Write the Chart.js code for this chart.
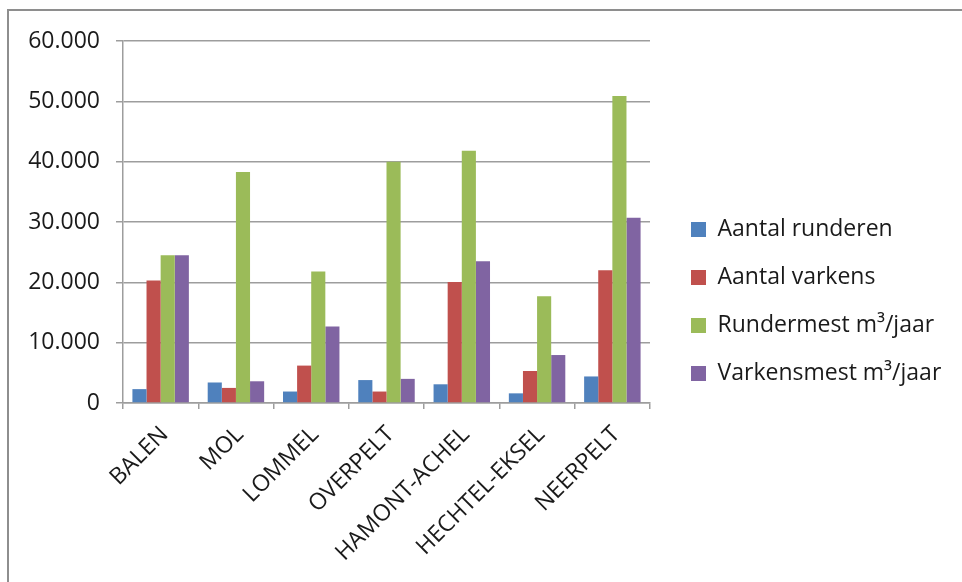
<!DOCTYPE html>
<html>
<head>
<meta charset="utf-8">
<script src="https://cdn.jsdelivr.net/npm/chart.js@4/dist/chart.umd.min.js"></script>
<style>
  html, body { margin: 0; padding: 0; background: #fff; overflow: hidden; }
  #wrap { position: relative; width: 962px; height: 582px; }
  #frame { position: absolute; left: 7px; top: 9px; width: 1000px; height: 620px; border: 2px solid #8e8e8e; box-sizing: border-box; pointer-events: none; }
  canvas { position: absolute; left: 0; top: 0; }
</style>
</head>
<body>
<div id="wrap">
  <canvas id="c" width="962" height="582"></canvas>
  <div id="frame"></div>
</div>
<script>
const categories = ["BALEN", "MOL", "LOMMEL", "OVERPELT", "HAMONT-ACHEL", "HECHTEL-EKSEL", "NEERPELT"];
const aantalRunderen = [2300, 3400, 1900, 3800, 3100, 1600, 4400];
const aantalVarkens = [20300, 2500, 6200, 1900, 20050, 5300, 22000];
const rundermest = [24500, 38300, 21800, 40000, 41800, 17700, 50900];
const varkensmest = [24500, 3600, 12700, 4000, 23500, 7950, 30700];
const seriesNames = ["Aantal runderen", "Aantal varkens", "Rundermest m³/jaar", "Varkensmest m³/jaar"];
const seriesColors = ["#4F81BD", "#C0504D", "#9BBB59", "#8064A2"];
const yTicks = [0, 10000, 20000, 30000, 40000, 50000, 60000];

const FONT = "Open Sans";
const FS = 23;
const fmt = v => String(v).replace(/\B(?=(\d{3})+(?!\d))/g, ".");

const legendPlacer = {
  id: "legendPlacer",
  beforeLayout(chart) {
    const lg = chart.legend;
    if (lg && !lg._patched) {
      const f = lg.fit.bind(lg);
      lg.fit = function () { f(); this.width = 962 - 650; };
      lg._patched = true;
    }
  },
  afterLayout(chart) {
    const lg = chart.legend;
    if (lg) {
      const pad = lg.options.labels.padding;
      const w = lg.width;
      lg.left = 691 - pad;
      lg.right = lg.left + w;
      lg.top -= 10;
      lg.bottom -= 10;
    }
  }
};

const allSeries = [aantalRunderen, aantalVarkens, rundermest, varkensmest];

new Chart(document.getElementById("c"), {
  type: "bar",
  data: {
    labels: categories,
    datasets: allSeries.map((d, i) => ({
      label: seriesNames[i],
      data: d,
      backgroundColor: seriesColors[i],
      borderWidth: 0,
      categoryPercentage: 0.75,
      barPercentage: 1.0
    }))
  },
  options: {
    responsive: false,
    devicePixelRatio: 1,
    animation: false,
    layout: { padding: { top: 41, left: 0, right: 0, bottom: 0 } },
    plugins: {
      tooltip: { enabled: false },
      legend: {
        position: "right",
        align: "center",
        labels: {
          boxWidth: 15,
          boxHeight: 15,
          padding: 25,
          color: "#1a1a1a",
          font: { family: FONT, size: FS }
        }
      }
    },
    scales: {
      x: {
        afterFit(s) { s.height = 582 - 403; },
        grid: { display: true, drawOnChartArea: false, drawTicks: true, tickLength: 6, color: "#9d9d9d", lineWidth: 1.5, offset: true },
        border: { display: true, color: "#9d9d9d", width: 1.5 },
        ticks: {
          color: "#1a1a1a",
          font: { family: FONT, size: FS },
          minRotation: 45,
          maxRotation: 45,
          autoSkip: false,
          padding: 12,
          labelOffset: 4
        }
      },
      y: {
        min: 0,
        max: 60000,
        afterFit(s) { s.width = 123; },
        afterBuildTicks(s) { s.ticks = yTicks.map(v => ({ value: v })); },
        grid: { color: "#9d9d9d", lineWidth: 1.5, tickLength: 7, drawTicks: true },
        border: { display: true, color: "#9d9d9d", width: 1.5 },
        ticks: {
          color: "#1a1a1a",
          font: { family: FONT, size: FS },
          padding: 16,
          callback: v => fmt(v)
        }
      }
    }
  },
  plugins: [legendPlacer]
});
</script>
</body>
</html>
